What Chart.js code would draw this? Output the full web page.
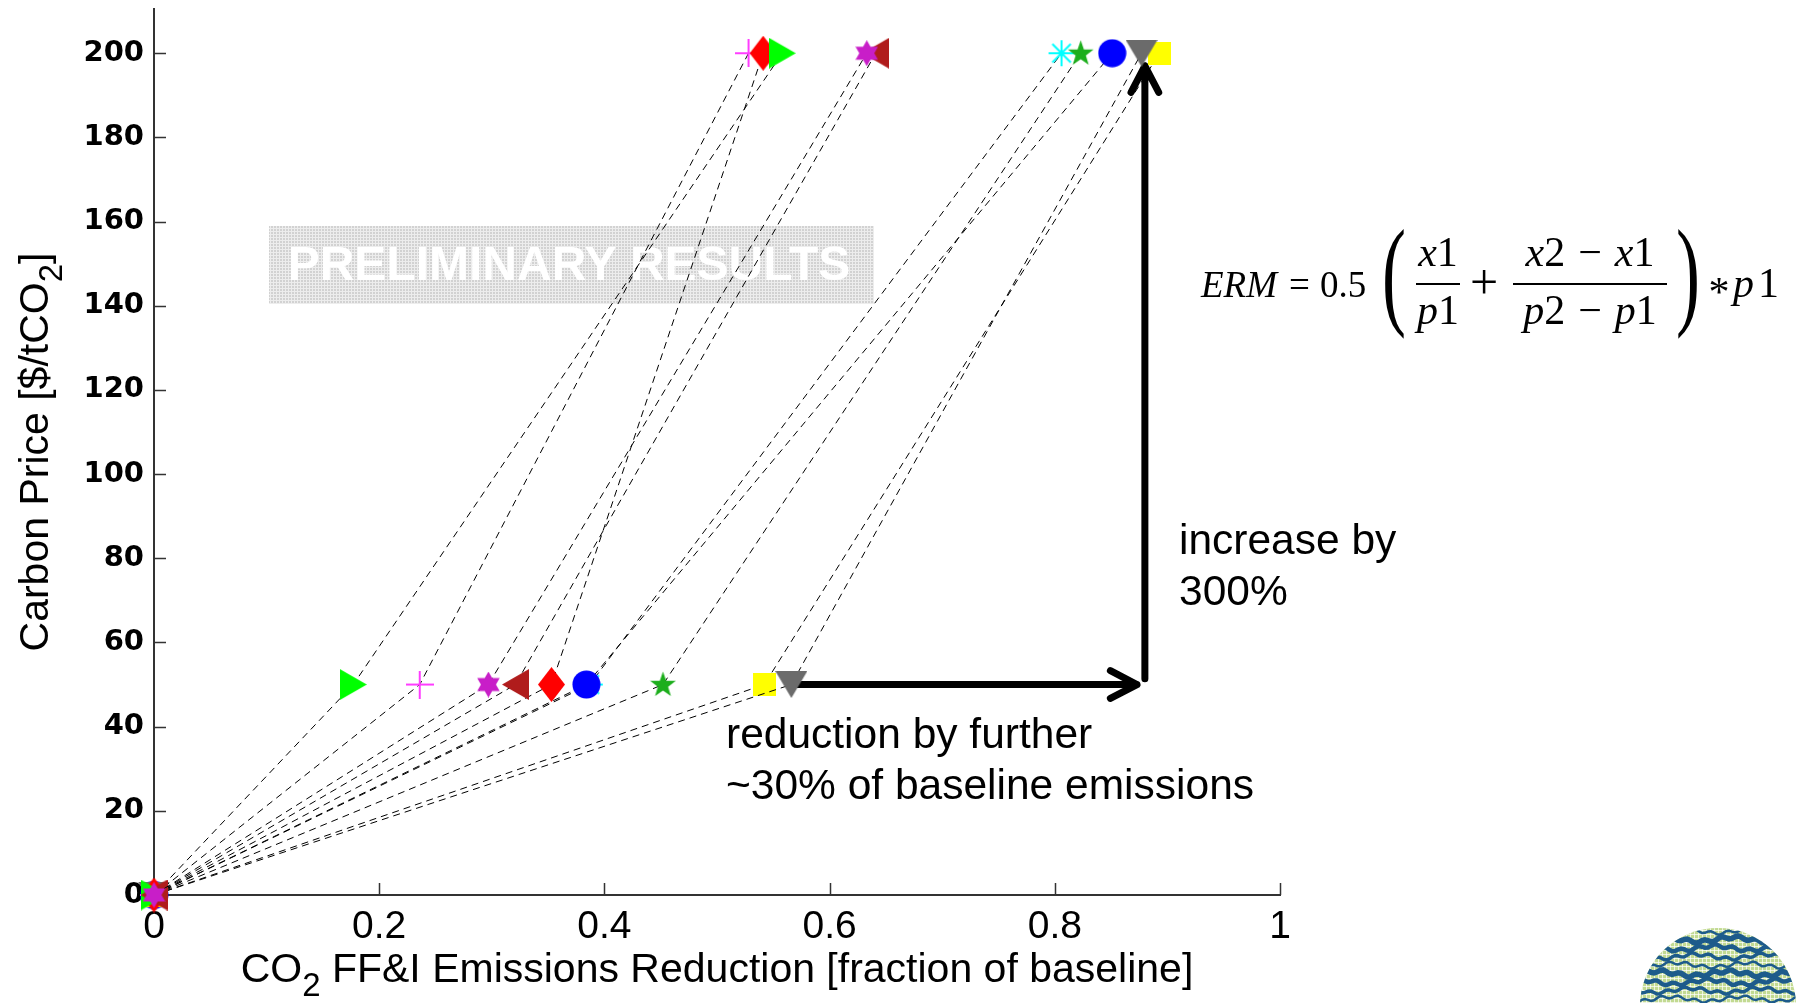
<!DOCTYPE html>
<html>
<head>
<meta charset="utf-8">
<title>Carbon price vs. emissions reduction</title>
<script src="https://cdn.jsdelivr.net/npm/chart.js@4.4.1/dist/chart.umd.min.js"></script>
<style>
  html, body { margin: 0; padding: 0; background: #fff; }
  #wrap { position: relative; width: 1811px; height: 1003px; overflow: hidden; font-family: "Liberation Sans", Arial, sans-serif; }
  #chart { position: absolute; left: 0; top: 0; }
  .note { position: absolute; font-size: 42.5px; line-height: 51px; color: #000; white-space: nowrap; }
  /* formula pieces, placed by baseline */
  .fx { position: absolute; font-family: "Liberation Serif", serif; font-size: 42px; line-height: 42px; color: #000; white-space: nowrap; }
  .fx.main { font-size: 37px; line-height: 37px; }
  .fx.c { transform: translateX(-50%); }
  .fx i { font-style: italic; }
  .fx .m { margin: 0 13px; }
  .bar { position: absolute; height: 2px; background: #000; }
  .paren { position: absolute; font-family: "Liberation Serif", serif; font-size: 120px; line-height: 120px; transform: scaleX(0.6); transform-origin: left top; }
  #logo { position: absolute; left: 1630px; top: 918px; }
</style>
</head>
<body>
<div id="wrap">
  <canvas id="chart" width="1811" height="1003"></canvas>
  <div class="note" style="left:1179px; top:514px;">increase by<br>300%</div>
  <div class="note" style="left:726px; top:708px;">reduction by further<br>~30% of baseline emissions</div>

  <span class="fx main" style="left:1201px; top:266px;"><i>ERM</i></span>
  <span class="fx main" style="left:1289px; top:266px;">=</span>
  <span class="fx main" style="left:1320px; top:266px;">0.5</span>
  <span class="paren" style="left:1382px; top:213px;">(</span>
  <span class="fx c" style="left:1438px; top:231px;"><i>x</i>1</span>
  <span class="bar" style="left:1416px; top:283px; width:44px;"></span>
  <span class="fx c" style="left:1438px; top:289px;"><i>p</i>1</span>
  <span class="fx c" style="left:1484px; top:257px; font-size:50px; line-height:50px;">+</span>
  <span class="fx c" style="left:1590px; top:231px;"><i>x</i>2<span class="m">−</span><i>x</i>1</span>
  <span class="bar" style="left:1513px; top:283px; width:154px;"></span>
  <span class="fx c" style="left:1590px; top:289px;"><i>p</i>2<span class="m">−</span><i>p</i>1</span>
  <span class="paren" style="left:1676px; top:213px;">)</span>
  <span class="fx c" style="left:1719px; top:271px;">*</span>
  <span class="fx" style="left:1733px; top:262px; letter-spacing:4px;"><i>p</i>1</span>

  <canvas id="logo" width="180" height="85"></canvas>
</div>
<script>
(function() {
    'use strict';

    // --- Data: reduction fraction reached by each model at $50 and $200 ---
    const prices = [0, 50, 200];
    const reductionAt50  = [0.387, 0.384, 0.452, 0.542, 0.566, 0.236, 0.353, 0.177, 0.321, 0.297];
    const reductionAt200 = [0.806, 0.851, 0.823, 0.893, 0.877, 0.528, 0.541, 0.558, 0.641, 0.633];
    const markerShapes = ['asterisk', 'circle', 'star', 'square', 'triDown', 'plus', 'diamond', 'triRight', 'triLeft', 'hexagram'];
    const markerColors = ['#00ffff', '#0000ff', '#1cae1c', '#ffff00', '#6b6b6b', '#ff3cff', '#ff0000', '#00ff00', '#b01c1c', '#c81ec8'];

    const xTicks = [0, 0.2, 0.4, 0.6, 0.8, 1];
    const yTicks = [0, 20, 40, 60, 80, 100, 120, 140, 160, 180, 200];

    // annotation arrows, in axis units
    const arrowAcross = [[0.566, 50], [0.873, 50]];
    const arrowUp = [[0.880, 51.4], [0.880, 197]];

    const AXIS_COLOR = '#333';

    // --- Marker glyphs (drawn once onto small canvases) ---
    function polygon(g, pts) {
        g.beginPath();
        pts.forEach((p, i) => i ? g.lineTo(p[0], p[1]) : g.moveTo(p[0], p[1]));
        g.closePath();
        g.fill();
    }

    function makeMarker(shape, color) {
        const sizes = {
            circle: [29, 29], square: [23, 23], diamond: [27, 35], triRight: [27, 31], triLeft: [27, 31],
            triDown: [32, 27], plus: [28, 28], asterisk: [28, 28], star: [27, 27], hexagram: [23, 26]
        };
        const [w, h] = sizes[shape];
        const c = document.createElement('canvas');
        c.width = w; c.height = h;
        const g = c.getContext('2d');
        g.fillStyle = color;
        g.strokeStyle = color;
        const cx = w / 2, cy = h / 2;
        switch (shape) {
            case 'circle':
                g.beginPath(); g.arc(cx, cy, 14, 0, Math.PI * 2); g.fill(); break;
            case 'square':
                g.fillRect(0, 0, w, h); break;
            case 'diamond':
                polygon(g, [[cx, 0], [w, cy], [cx, h], [0, cy]]); break;
            case 'triRight':
                polygon(g, [[0, 0], [w, cy], [0, h]]); break;
            case 'triLeft':
                polygon(g, [[w, 0], [0, cy], [w, h]]); break;
            case 'triDown':
                polygon(g, [[0, 0], [w, 0], [cx, h]]); break;
            case 'plus':
                g.lineWidth = 2;
                g.beginPath(); g.moveTo(0, cy); g.lineTo(w, cy); g.moveTo(cx, 0); g.lineTo(cx, h); g.stroke(); break;
            case 'asterisk': {
                g.lineWidth = 2;
                g.beginPath();
                for (let k = 0; k < 4; k++) {
                    const a = k * Math.PI / 4, r = 13;
                    g.moveTo(cx - r * Math.cos(a), cy - r * Math.sin(a));
                    g.lineTo(cx + r * Math.cos(a), cy + r * Math.sin(a));
                }
                g.stroke(); break;
            }
            case 'star': {
                const pts = [];
                for (let k = 0; k < 10; k++) {
                    const r = k % 2 ? 5.4 : 13.5;
                    const a = -Math.PI / 2 + k * Math.PI / 5;
                    pts.push([cx + r * Math.cos(a), cy + 0.5 + r * Math.sin(a)]);
                }
                polygon(g, pts); break;
            }
            case 'hexagram': {
                const pts = [];
                for (let k = 0; k < 12; k++) {
                    const r = k % 2 ? 7.5 : 13;
                    const a = -Math.PI / 2 + k * Math.PI / 6;
                    pts.push([cx + r * Math.cos(a), cy + r * Math.sin(a)]);
                }
                polygon(g, pts); break;
            }
        }
        return c;
    }

    // --- Datasets: origin -> $50 point -> $200 point for each model ---
    const datasets = markerShapes.map((shape, i) => ({
        data: [
            { x: 0, y: prices[0] },
            { x: reductionAt50[i], y: prices[1] },
            { x: reductionAt200[i], y: prices[2] }
        ],
        showLine: true,
        borderColor: '#000',
        borderWidth: 1,
        borderDash: [7, 5],
        pointStyle: makeMarker(shape, markerColors[i]),
        pointRadius: 13,
        clip: false,
        order: markerShapes.length - i   // later entries paint on top
    }));

    // --- Plugins: axes with inward ticks, titles, watermark box and arrows ---
    const axisDecor = {
        id: 'axisDecor',
        beforeDatasetsDraw(chart) {
            const { ctx, chartArea: a, scales: { x, y } } = chart;
            ctx.save();

            // watermark box
            const tile = document.createElement('canvas');
            tile.width = 3; tile.height = 3;
            const tg = tile.getContext('2d');
            tg.fillStyle = '#d2d2d2'; tg.fillRect(0, 0, 3, 3);
            tg.fillStyle = '#ededed'; tg.fillRect(0, 0, 3, 1); tg.fillRect(0, 0, 1, 3);
            ctx.fillStyle = ctx.createPattern(tile, 'repeat');
            ctx.fillRect(269, 226, 605, 78);
            ctx.fillStyle = '#fff';
            ctx.font = 'bold 48px "Liberation Sans", Arial, sans-serif';
            ctx.textAlign = 'center';
            ctx.textBaseline = 'middle';
            ctx.fillText('PRELIMINARY RESULTS', 569, 267);

            // inward tick marks
            ctx.strokeStyle = AXIS_COLOR;
            ctx.lineWidth = 1.5;
            ctx.beginPath();
            xTicks.forEach(v => {
                const px = Math.round(x.getPixelForValue(v)) + 0.5;
                ctx.moveTo(px, a.bottom); ctx.lineTo(px, a.bottom - 12);
            });
            yTicks.forEach(v => {
                const py = Math.round(y.getPixelForValue(v)) + 0.5;
                ctx.moveTo(a.left, py); ctx.lineTo(a.left + 12, py);
            });
            ctx.stroke();

            // arrows
            const drawArrow = (from, to) => {
                const x0 = x.getPixelForValue(from[0]), y0 = y.getPixelForValue(from[1]);
                const x1 = x.getPixelForValue(to[0]), y1 = y.getPixelForValue(to[1]);
                const ang = Math.atan2(y1 - y0, x1 - x0);
                const head = 30, spread = 0.48;
                ctx.strokeStyle = '#000';
                ctx.lineWidth = 7;
                ctx.lineCap = 'round';
                ctx.lineJoin = 'round';
                ctx.beginPath();
                ctx.moveTo(x0, y0); ctx.lineTo(x1, y1);
                ctx.moveTo(x1 - head * Math.cos(ang - spread), y1 - head * Math.sin(ang - spread));
                ctx.lineTo(x1, y1);
                ctx.lineTo(x1 - head * Math.cos(ang + spread), y1 - head * Math.sin(ang + spread));
                ctx.stroke();
            };
            drawArrow(arrowAcross[0], arrowAcross[1]);
            drawArrow(arrowUp[0], arrowUp[1]);
            ctx.restore();
        },
        afterDraw(chart) {
            const { ctx, chartArea: a } = chart;
            ctx.save();
            ctx.fillStyle = '#000';
            ctx.textBaseline = 'alphabetic';
            ctx.textAlign = 'left';
            const main = '41px "Liberation Sans", Arial, sans-serif';
            const sub = '33px "Liberation Sans", Arial, sans-serif';

            // x title with subscript
            const parts = [['CO', main, 0], ['2', sub, 14], [' FF&I Emissions Reduction [fraction of baseline]', main, 0]];
            const widthOf = p => { ctx.font = p[1]; return ctx.measureText(p[0]).width; };
            let total = parts.reduce((s, p) => s + widthOf(p), 0);
            let cx = (a.left + a.right) / 2 - total / 2;
            parts.forEach(p => { ctx.font = p[1]; ctx.fillText(p[0], cx, 982 + p[2]); cx += ctx.measureText(p[0]).width; });

            // y title, rotated
            const yparts = [['Carbon Price [$/tCO', main, 0], ['2', sub, 14], [']', main, 0]];
            total = yparts.reduce((s, p) => s + widthOf(p), 0);
            ctx.translate(48, 452);
            ctx.rotate(-Math.PI / 2);
            cx = -total / 2;
            yparts.forEach(p => { ctx.font = p[1]; ctx.fillText(p[0], cx, p[2]); cx += ctx.measureText(p[0]).width; });
            ctx.restore();
        }
    };

    new Chart(document.getElementById('chart'), {
        type: 'scatter',
        data: { datasets },
        options: {
            responsive: false,
            animation: false,
            events: [],
            layout: { autoPadding: false, padding: { left: 0, top: 9, right: 531, bottom: 0 } },
            plugins: { legend: { display: false }, tooltip: { enabled: false } },
            scales: {
                x: {
                    type: 'linear', min: 0, max: 1,
                    grid: { display: false, drawTicks: false },
                    border: { display: true, color: AXIS_COLOR, width: 2 },
                    ticks: {
                        padding: 9, color: '#000', maxRotation: 0,
                        font: { family: '"Liberation Sans", Arial, sans-serif', size: 39 },
                        callback: v => String(v)
                    },
                    afterBuildTicks: s => { s.ticks = xTicks.map(v => ({ value: v })); },
                    afterFit: s => { s.height = 108; s.paddingLeft = 0; s.paddingRight = 0; }
                },
                y: {
                    type: 'linear', min: 0, max: 210.5,
                    grid: { display: false, drawTicks: false },
                    border: { display: true, color: AXIS_COLOR, width: 2 },
                    ticks: {
                        padding: 10, color: '#000',
                        font: { family: '"DejaVu Sans", sans-serif', size: 29, weight: 'bold' },
                        callback: v => String(v)
                    },
                    afterBuildTicks: s => { s.ticks = yTicks.map(v => ({ value: v })); },
                    afterFit: s => { s.width = 154; s.paddingTop = 0; s.paddingBottom = 0; }
                }
            }
        },
        plugins: [axisDecor]
    });

    // --- Small globe logo, bottom right ---
    function drawLogo() {
        const c = document.getElementById('logo');
        const g = c.getContext('2d');
        g.save();
        g.beginPath(); g.arc(88, 88, 78, 0, Math.PI * 2); g.clip();
        g.fillStyle = '#c2da92'; g.fillRect(0, 0, c.width, c.height);
        g.fillStyle = 'rgba(255,255,255,0.7)';
        for (let i = 0; i < c.width; i += 4) g.fillRect(i, 0, 1, c.height);
        for (let j = 0; j < c.height; j += 4) g.fillRect(0, j, c.width, 1);
        g.strokeStyle = '#1d5b8b';
        g.lineCap = 'round';
        for (let k = 0; k < 9; k++) {
            const y0 = 13 + k * 8.5;
            g.lineWidth = 2.5 + (k * 7 % 4);
            g.beginPath();
            for (let i = 0; i <= c.width; i += 3) {
                const yy = y0 + 2.2 * Math.sin(i * 0.09 + k * 1.7) + 1.6 * Math.sin(i * 0.37 + k * 2.3);
                if (i === 0) g.moveTo(i, yy); else g.lineTo(i, yy);
            }
            g.stroke();
        }
        g.restore();
    }
    drawLogo();
})();
</script>
</body>
</html>
